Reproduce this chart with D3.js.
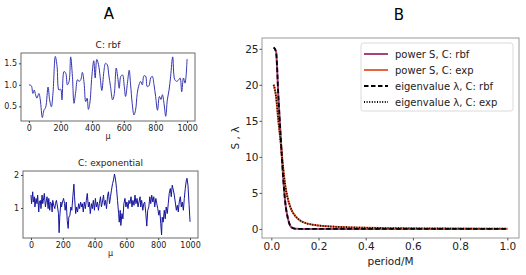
<!DOCTYPE html>
<html><head><meta charset="utf-8">
<script src="https://cdn.jsdelivr.net/npm/d3@7"></script>
<style>
body{margin:0;background:#fff;}
svg{display:block;font-family:"DejaVu Sans",sans-serif;}
</style></head><body>
<svg id="c" width="526" height="275"></svg>
<script>
// ---- Panel A, top: C: rbf ----
const muRbf  = [0,15,25,34,42,51,63,72,85,95,106,121,131,142,152,167,178,190,201,209,222,233,243,254,264,275,285,296,307,317,328,338,349,359,368,376,385,398,410,419,429,440,450,461,474,484,495,505,516,529,539,552,562,571,581,592,603,611,624,634,643,653,664,674,685,696,706,717,727,738,748,759,770,780,791,801,813,825,835,844,854,865,875,886,896,909,922,935,947,956,966,977,987,1000];
const valRbf = [1.00,0.98,0.80,0.88,0.77,0.69,0.80,0.65,0.24,0.41,0.48,0.95,0.65,0.49,0.80,1.66,1.43,0.88,0.90,0.65,1.31,1.27,1.00,1.08,1.65,1.20,0.57,0.84,1.12,1.08,1.12,1.29,1.04,0.61,0.69,0.43,0.57,1.20,1.56,1.16,1.59,1.47,1.20,0.87,1.31,1.50,1.47,1.23,0.96,0.65,0.77,1.39,1.16,0.92,1.20,1.23,0.96,0.73,1.08,1.34,1.00,0.57,0.30,0.41,0.80,1.00,1.08,1.00,1.21,1.20,0.96,0.98,1.16,1.20,1.00,0.73,0.41,0.73,0.66,0.77,0.57,0.27,0.65,0.88,1.20,1.65,1.12,1.08,1.12,1.16,0.84,1.16,1.04,1.60];
const xTicksA = [0,200,400,600,800,1000];
const yTicksRbf = [0.5,1.0,1.5];

// ---- Panel A, bottom: C: exponential ----
const muExp  = [0,4,11,15,21,25,32,38,42,49,53,59,63,70,74,78,84,91,95,101,108,112,118,122,129,133,137,143,150,154,160,167,173,177,181,188,192,198,205,211,215,222,228,234,238,245,251,257,264,270,274,281,287,293,300,306,312,319,
  323,329,335,342,348,354,361,367,373,380,386,392,399,405,411,418,424,430,437,443,449,456,462,468,475,481,487,494,500,506,513,519,525,532,538,544,551,555,561,565,572,578,584,591,597,603,610,616,622,629,635,641,648,654,660,667,673,679,686,
  690,696,703,709,715,722,728,734,741,747,753,759,766,772,778,785,791,797,804,810,816,821,825,831,838,844,850,857,863,869,876,882,888,895,901,907,914,920,926,932,939,945,951,958,964,970,977,981,987,994,1000];
const valExp = [1.39,1.13,1.49,1.18,1.34,1.03,1.29,1.13,1.39,0.88,1.18,1.23,0.98,1.39,1.13,1.23,1.44,1.03,1.18,1.34,0.98,1.29,0.93,1.18,1.13,0.88,1.23,1.08,0.98,1.13,1.23,1.03,0.83,0.25,0.72,1.18,1.03,1.18,1.29,1.13,0.93,1.18,0.62,0.38,0.72,0.78,1.03,0.93,1.39,1.72,1.34,0.83,1.03,0.88,1.13,0.98,1.18,1.03,
  1.13,0.88,1.18,0.98,1.23,1.44,1.03,1.18,0.83,1.13,0.98,1.23,0.93,1.29,1.03,1.18,0.93,1.13,1.34,1.03,1.18,1.39,1.08,1.23,0.98,1.34,1.49,1.13,1.34,1.54,1.74,1.85,2.03,1.85,1.59,1.23,0.83,0.57,0.93,0.47,0.83,0.67,1.13,1.29,1.03,1.18,0.98,1.23,1.13,1.34,1.03,1.23,1.08,1.39,1.13,1.29,1.03,1.18,1.34,
  1.03,1.23,0.93,1.13,1.18,0.83,0.45,0.93,1.03,1.34,1.13,1.39,1.18,1.34,1.03,1.29,1.13,0.98,0.78,0.93,0.52,0.18,0.72,0.57,0.93,0.67,1.03,0.83,1.13,1.44,1.59,1.34,1.69,1.54,1.39,1.18,0.93,1.08,0.88,1.18,1.34,1.03,1.18,0.93,1.29,1.59,1.85,1.90,1.69,1.10,0.58];
const yTicksExp = [1,2];

// ---- Panel B ----
const period   = [0.01,0.02,0.03,0.04,0.05,0.06,0.07,0.08,0.09,0.10,0.11,0.12,0.13,0.14,0.15,0.17,0.20,0.25,0.30,0.35,0.40,0.50,0.60,0.70,0.80,0.90,1.00];
const powerRbf = [25.2,24.6,18.3,12.6,7.2,3.4,1.5,0.45,0.13,0.03,0.01,0,0,0,0,0,0,0,0,0,0,0,0,0,0,0,0];
const powerExp = [20.0,18.4,15.0,11.9,8.5,5.8,4.2,3.1,2.35,1.85,1.5,1.22,1.02,0.88,0.77,0.62,0.47,0.34,0.26,0.20,0.16,0.11,0.08,0.06,0.05,0.04,0.035];
const eigRbf   = [25.2,24.6,18.3,12.6,7.2,3.4,1.5,0.45,0.13,0.03,0.01,0,0,0,0,0,0,0,0,0,0,0,0,0,0,0,0];
const eigExp   = [20.0,18.4,15.0,11.9,8.5,5.8,4.2,3.1,2.35,1.85,1.5,1.22,1.02,0.88,0.77,0.62,0.47,0.34,0.26,0.20,0.16,0.11,0.08,0.06,0.05,0.04,0.035];
const xTicksB = [0,0.2,0.4,0.6,0.8,1.0];
const yTicksB = [0,5,10,15,20,25];
const legendLabels = ["power S, C: rbf","power S, C: exp","eigenvalue \u03bb, C: rbf","eigenvalue \u03bb, C: exp"];

const svg = d3.select("#c");
svg.append("rect").attr("width",526).attr("height",275).attr("fill","#fff");

// Panel titles
svg.append("text").attr("x",109).attr("y",19).attr("text-anchor","middle").attr("font-size",15).text("A");
svg.append("text").attr("x",399).attr("y",20).attr("text-anchor","middle").attr("font-size",15).text("B");

function smallPanel(box, xs, ys, yDom, yTicks, yFmt, title, color, curve){
  const x = d3.scaleLinear().domain([-50,1050]).range([box.l, box.r]);
  const y = d3.scaleLinear().domain(yDom).range([box.b, box.t]);
  const g = svg.append("g");
  const line = d3.line().x((d,i)=>x(xs[i])).y((d,i)=>y(ys[i])).curve(curve);
  g.append("path").datum(ys).attr("d",line).attr("fill","none").attr("stroke",color).attr("stroke-width",1).attr("stroke-linejoin","round");
  g.append("rect").attr("x",box.l).attr("y",box.t).attr("width",box.r-box.l).attr("height",box.b-box.t)
    .attr("fill","none").attr("stroke","#6b6b6b").attr("stroke-width",1);
  const xa = g.append("g").attr("transform",`translate(0,${box.b})`)
    .call(d3.axisBottom(x).tickValues(xTicksA).tickSize(2).tickPadding(2).tickFormat(d3.format("d")));
  const ya = g.append("g").attr("transform",`translate(${box.l},0)`)
    .call(d3.axisLeft(y).tickValues(yTicks).tickSize(2).tickPadding(2).tickFormat(yFmt));
  [xa,ya].forEach(a=>{a.select(".domain").remove();a.selectAll("line").attr("stroke","#444");
    a.selectAll("text").attr("font-size",8).attr("font-family","DejaVu Sans").attr("fill","#222");});
  g.append("text").attr("x",(box.l+box.r)/2).attr("y",box.t-5).attr("text-anchor","middle").attr("font-size",9).attr("fill","#222").text(title);
  g.append("text").attr("x",(x(0)+x(1000))/2).attr("y",box.b+18).attr("text-anchor","middle").attr("font-size",8).attr("fill","#222").text("\u03bc");
}
smallPanel({l:21,r:195,t:53,b:121}, muRbf, valRbf, [0.16,1.74], yTicksRbf, d3.format(".1f"), "C: rbf", "#3535b0", d3.curveCatmullRom);
smallPanel({l:23,r:198,t:171,b:238}, muExp, valExp, [0.09,2.12], yTicksExp, d3.format("d"), "C: exponential", "#16169c", d3.curveLinear);

// Panel B
const bx = {l:262,r:519,t:38,b:238};
const xB = d3.scaleLinear().domain([-0.0395,1.0495]).range([bx.l,bx.r]);
const yB = d3.scaleLinear().domain([-1.26,26.5]).range([bx.b,bx.t]);
const gB = svg.append("g");
const series = [
  {v:powerRbf, color:"#a8417c", w:2, dash:null},
  {v:powerExp, color:"#e8633a", w:2, dash:null},
  {v:eigRbf,   color:"#000", w:1.8, dash:"4.5,2.5"},
  {v:eigExp,   color:"#000", w:1.8, dash:"1,1.6"}
];
series.forEach(s=>{
  const ln = d3.line().x((d,i)=>xB(period[i])).y(d=>yB(d)).curve(d3.curveMonotoneX);
  gB.append("path").datum(s.v).attr("d",ln).attr("fill","none").attr("stroke",s.color)
    .attr("stroke-width",s.w).attr("stroke-dasharray",s.dash);
});
gB.append("rect").attr("x",bx.l).attr("y",bx.t).attr("width",bx.r-bx.l).attr("height",bx.b-bx.t)
  .attr("fill","none").attr("stroke","#9a9a9a").attr("stroke-width",1);
const xaB = gB.append("g").attr("transform",`translate(0,${bx.b})`)
  .call(d3.axisBottom(xB).tickValues(xTicksB).tickSize(2.5).tickPadding(2).tickFormat(d3.format(".1f")));
const yaB = gB.append("g").attr("transform",`translate(${bx.l},0)`)
  .call(d3.axisLeft(yB).tickValues(yTicksB).tickSize(2.5).tickPadding(1).tickFormat(d3.format("d")));
[xaB,yaB].forEach(a=>{a.select(".domain").remove();a.selectAll("line").attr("stroke","#555");
  a.selectAll("text").attr("font-size",10.5).attr("font-family","DejaVu Sans").attr("fill","#222");});
gB.append("text").attr("x",(bx.l+bx.r)/2).attr("y",265).attr("text-anchor","middle").attr("font-size",10.5).attr("fill","#222").text("period/M");
gB.append("text").attr("transform","translate(239,138) rotate(-90)").attr("text-anchor","middle").attr("font-size",10.5).attr("fill","#222").text("S , \u03bb");

// Legend
const lg = gB.append("g");
lg.append("rect").attr("x",361).attr("y",43).attr("width",152).attr("height",68).attr("rx",2.5)
  .attr("fill","#fff").attr("fill-opacity",0.85).attr("stroke","#d0d0d0").attr("stroke-width",0.8);
legendLabels.forEach((t,i)=>{
  const yy = 54 + i*16;
  const s = series[i];
  lg.append("line").attr("x1",364).attr("x2",388).attr("y1",yy).attr("y2",yy)
    .attr("stroke",s.color).attr("stroke-width",s.w).attr("stroke-dasharray",s.dash);
  lg.append("text").attr("x",395).attr("y",yy+3.5).attr("font-size",10).attr("fill","#222").text(t);
});
</script>
</body></html>
